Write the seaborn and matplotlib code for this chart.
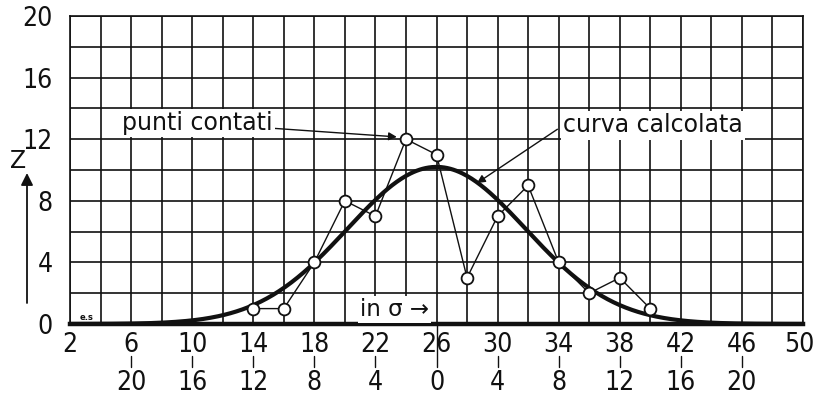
import numpy as np
import pandas as pd
import seaborn as sns
import matplotlib.pyplot as plt

# Counted values (open circles)
x_counted = [14, 16, 18, 20, 22, 24, 26, 28, 30, 32, 34, 36, 38, 40]
z_counted = [1, 1, 4, 8, 7, 12, 11, 3, 7, 9, 4, 2, 3, 1]

# Parameters of the calculated normal curve
curve_mean = 26
curve_sigma = 5.83
curve_peak = 10.2

# Axis ticks and the deviation row under the x axis
x_ticks = [2, 6, 10, 14, 18, 22, 26, 30, 34, 38, 42, 46, 50]
y_ticks = [0, 4, 8, 12, 16, 20]
dev_positions = [6, 10, 14, 18, 22, 26, 30, 34, 38, 42, 46]
dev_labels = ["20", "16", "12", "8", "4", "0", "4", "8", "12", "16", "20"]

sns.set_theme(style="white")
plt.rcParams["font.family"] = ["DejaVu Sans"]

INK = "#111111"
NUM = dict(family=["DejaVu Sans"], stretch="condensed", fontsize=19)
TXT_FONT = ["DejaVu Sans"]

fig = plt.figure(figsize=(8.13, 4.0), dpi=100)
ax = fig.add_axes([70 / 813, 76 / 400, 733 / 813, 308 / 400])

# calculated curve
xc = np.linspace(2, 50, 481)
zc = curve_peak * np.exp(-0.5 * ((xc - curve_mean) / curve_sigma) ** 2)
curve_df = pd.DataFrame({"x": xc, "z": zc})
sns.lineplot(data=curve_df, x="x", y="z", ax=ax, color=INK, lw=3.0,
             zorder=4, solid_capstyle="round")

# counted points joined by thin lines
pts_df = pd.DataFrame({"x": x_counted, "z": z_counted})
sns.lineplot(data=pts_df, x="x", y="z", ax=ax, color=INK, lw=1.0,
             marker="o", markersize=8.5, markerfacecolor="white",
             markeredgecolor=INK, markeredgewidth=1.3, zorder=5)

ax.set_xlim(2, 50)
ax.set_ylim(0, 20)
ax.set_xticks(x_ticks)
ax.set_yticks(y_ticks)
ax.set_xticks(range(2, 51, 2), minor=True)
ax.set_yticks(range(0, 21, 2), minor=True)
# the last abscissa label sits at the figure edge and is placed by hand below
ax.set_xticklabels([str(v) for v in x_ticks[:-1]] + [""], **NUM)
ax.set_yticklabels([str(v) for v in y_ticks], **NUM)
ax.grid(True, which="both", color=INK, lw=1.2)
ax.set_axisbelow(True)
ax.tick_params(axis="both", which="major", direction="out", length=4.5,
               width=1.2, color=INK, labelcolor=INK)
ax.tick_params(axis="x", which="major", pad=1)
ax.tick_params(axis="y", which="major", pad=8)
ax.tick_params(axis="both", which="minor", length=0)
ax.set_xlabel("")
ax.set_ylabel("")

xtrans = ax.get_xaxis_transform()
ax.text(x_ticks[-1] - 0.25, -21 / 308, str(x_ticks[-1]), transform=xtrans,
        ha="center", va="center", color=INK, clip_on=False, **NUM)

for side in ["left", "top", "right"]:
    ax.spines[side].set_color(INK)
    ax.spines[side].set_linewidth(1.2)
ax.spines["bottom"].set_color(INK)
ax.spines["bottom"].set_linewidth(3.2)

# deviation row with short dashes between the two label rows
for pos, lab in zip(dev_positions, dev_labels):
    ax.text(pos, -59 / 308, lab, transform=xtrans, ha="center", va="center",
            color=INK, clip_on=False, **NUM)
    top = 0.0 if pos == curve_mean else -0.104
    ax.plot([pos, pos], [top, -0.14], transform=xtrans, color=INK, lw=1.0,
            clip_on=False, zorder=1)

# labels with arrows
box = dict(boxstyle="square,pad=0.1", fc="white", ec="none")
ax.annotate("punti contati", xy=(23.4, 12.15), xytext=(5.4, 13.05),
            ha="left", va="center", fontsize=17, family=TXT_FONT, color=INK,
            bbox=box, zorder=6,
            arrowprops=dict(arrowstyle="-|>", color=INK, lw=1.0,
                            mutation_scale=12, shrinkA=0, shrinkB=0))
ax.annotate("curva calcolata", xy=(28.65, 9.15), xytext=(34.3, 12.9),
            ha="left", va="center", fontsize=17, family=TXT_FONT, color=INK,
            bbox=box, zorder=6,
            arrowprops=dict(arrowstyle="-|>", color=INK, lw=1.0,
                            mutation_scale=12, shrinkA=3, shrinkB=0,
                            relpos=(0, 0.5)))
ax.text(21.0, 0.95, "in σ →", ha="left", va="center", fontsize=16.5,
        family=TXT_FONT, color=INK, bbox=box, zorder=6)
ax.text(2.6, 0.45, "e.s", ha="left", va="center", fontsize=6,
        weight="bold", family=TXT_FONT, color=INK, zorder=6)

# ordinate symbol with upward arrow
fig.text(18 / 813, 1 - 161 / 400, "Z", ha="center", va="center",
         fontsize=17, family=TXT_FONT, color=INK)
ax.annotate("", xy=(27, 400 - 173), xycoords="figure pixels",
            xytext=(27, 400 - 303), textcoords="figure pixels",
            arrowprops=dict(arrowstyle="-|>", color=INK, lw=1.3,
                            mutation_scale=18, shrinkA=0, shrinkB=0),
            annotation_clip=False)

fig.savefig("out.png", dpi=100, facecolor="white")
